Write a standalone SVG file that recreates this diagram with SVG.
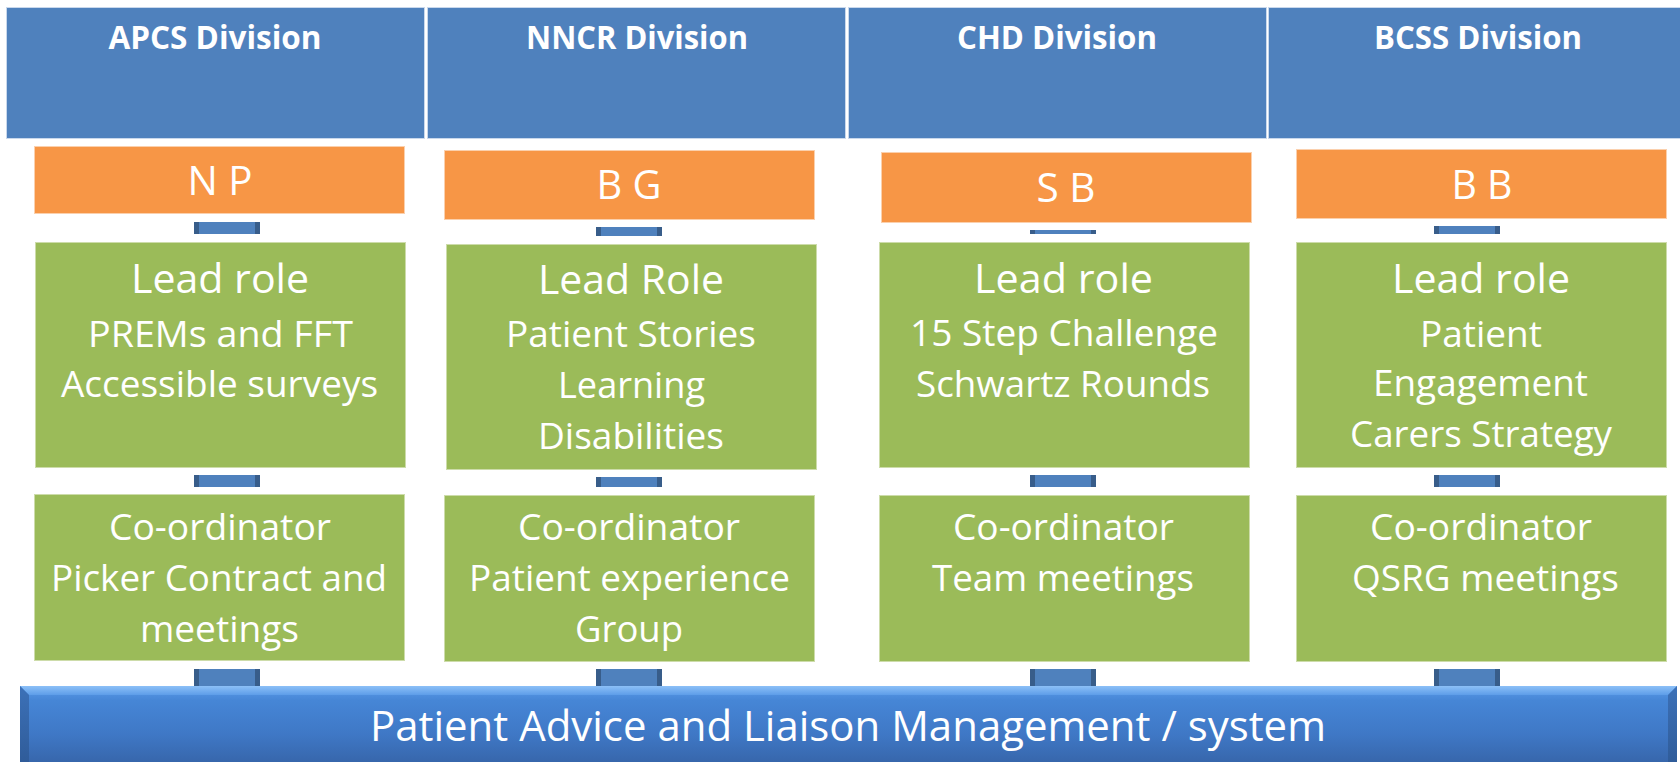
<svg xmlns="http://www.w3.org/2000/svg" width="1680" height="762" viewBox="0 0 1680 762">
  <style>
    text { font-family: "Open Sans", "Noto Sans", "Liberation Sans", sans-serif; fill: #ffffff; text-anchor: middle; }
    .hdr { fill: #4F81BD; stroke: #c9d8ec; stroke-width: 1; }
    .hdr-t { font-weight: bold; font-size: 32px; }
    .lead { fill: #F79646; stroke: #fbd0ad; stroke-width: 1; }
    .lead-t { font-size: 40px; }
    .box { fill: #9BBB59; stroke: #cddcaa; stroke-width: 1; }
    .t1 { font-size: 41px; }
    .t2 { font-size: 37px; }
    .bar-t { font-size: 42px; }
    .link { fill: #4F81BD; }
    .link-end { fill: #385D8A; }
  </style>
  <defs>
    <linearGradient id="barFill" x1="0" y1="0" x2="0" y2="1">
      <stop offset="0" stop-color="#5c9ce9"/>
      <stop offset="0.18" stop-color="#4686d6"/>
      <stop offset="0.6" stop-color="#3f78c6"/>
      <stop offset="1" stop-color="#3664a8"/>
    </linearGradient>
    <linearGradient id="barTop" x1="0" y1="0" x2="0" y2="1">
      <stop offset="0" stop-color="#8cc0f7"/>
      <stop offset="1" stop-color="#5d9de9"/>
    </linearGradient>
    <linearGradient id="barSide" x1="0" y1="0" x2="0" y2="1">
      <stop offset="0" stop-color="#3c71b8"/>
      <stop offset="1" stop-color="#2f5b98"/>
    </linearGradient>
    <!-- short link block: blue body with darker ends -->
    <g id="linkShape">
      <rect class="link" x="0" y="0" width="66" height="1"/>
    </g>
  </defs>

  <rect width="1680" height="762" fill="#ffffff"/>

  <!-- division headers -->
  <g id="header-apcs">
    <rect class="hdr" x="6.5" y="7.5" width="418" height="131"/>
    <text class="hdr-t" x="215" y="49" textLength="213" lengthAdjust="spacingAndGlyphs">APCS Division</text>
  </g>
  <g id="header-nncr">
    <rect class="hdr" x="427.5" y="7.5" width="418" height="131"/>
    <text class="hdr-t" x="637" y="49" textLength="222" lengthAdjust="spacingAndGlyphs">NNCR Division</text>
  </g>
  <g id="header-chd">
    <rect class="hdr" x="848.5" y="7.5" width="418" height="131"/>
    <text class="hdr-t" x="1057" y="49" textLength="200" lengthAdjust="spacingAndGlyphs">CHD Division</text>
  </g>
  <g id="header-bcss">
    <rect class="hdr" x="1268.5" y="7.5" width="420" height="131"/>
    <text class="hdr-t" x="1478" y="49" textLength="208" lengthAdjust="spacingAndGlyphs">BCSS Division</text>
  </g>

  <!-- connectors between the stacked boxes -->
  <g id="connectors">
    <!-- column 1 -->
    <rect class="link" x="194" y="222" width="66" height="12"/>
    <rect class="link-end" x="194" y="222" width="5" height="12"/>
    <rect class="link-end" x="255" y="222" width="5" height="12"/>
    <rect class="link" x="194" y="475" width="66" height="12"/>
    <rect class="link-end" x="194" y="475" width="5" height="12"/>
    <rect class="link-end" x="255" y="475" width="5" height="12"/>
    <rect class="link" x="194" y="669" width="66" height="19"/>
    <rect class="link-end" x="194" y="669" width="5" height="19"/>
    <rect class="link-end" x="255" y="669" width="5" height="19"/>
    <!-- column 2 -->
    <rect class="link" x="596" y="227" width="66" height="9"/>
    <rect class="link-end" x="596" y="227" width="5" height="9"/>
    <rect class="link-end" x="657" y="227" width="5" height="9"/>
    <rect class="link" x="596" y="477" width="66" height="10"/>
    <rect class="link-end" x="596" y="477" width="5" height="10"/>
    <rect class="link-end" x="657" y="477" width="5" height="10"/>
    <rect class="link" x="596" y="669" width="66" height="19"/>
    <rect class="link-end" x="596" y="669" width="5" height="19"/>
    <rect class="link-end" x="657" y="669" width="5" height="19"/>
    <!-- column 3 -->
    <rect class="link" x="1030" y="230" width="66" height="4"/>
    <rect class="link-end" x="1030" y="230" width="5" height="4"/>
    <rect class="link-end" x="1091" y="230" width="5" height="4"/>
    <rect class="link" x="1030" y="475" width="66" height="12"/>
    <rect class="link-end" x="1030" y="475" width="5" height="12"/>
    <rect class="link-end" x="1091" y="475" width="5" height="12"/>
    <rect class="link" x="1030" y="669" width="66" height="19"/>
    <rect class="link-end" x="1030" y="669" width="5" height="19"/>
    <rect class="link-end" x="1091" y="669" width="5" height="19"/>
    <!-- column 4 -->
    <rect class="link" x="1434" y="226" width="66" height="8"/>
    <rect class="link-end" x="1434" y="226" width="5" height="8"/>
    <rect class="link-end" x="1495" y="226" width="5" height="8"/>
    <rect class="link" x="1434" y="475" width="66" height="12"/>
    <rect class="link-end" x="1434" y="475" width="5" height="12"/>
    <rect class="link-end" x="1495" y="475" width="5" height="12"/>
    <rect class="link" x="1434" y="669" width="66" height="19"/>
    <rect class="link-end" x="1434" y="669" width="5" height="19"/>
    <rect class="link-end" x="1495" y="669" width="5" height="19"/>
  </g>

  <!-- named leads -->
  <g id="lead-np">
    <rect class="lead" x="34.5" y="146.5" width="370" height="67"/>
    <text class="lead-t" x="220" y="195" textLength="65" lengthAdjust="spacingAndGlyphs">N P</text>
  </g>
  <g id="lead-bg">
    <rect class="lead" x="444.5" y="150.5" width="370" height="69"/>
    <text class="lead-t" x="629" y="199" textLength="65" lengthAdjust="spacingAndGlyphs">B G</text>
  </g>
  <g id="lead-sb">
    <rect class="lead" x="881.5" y="152.5" width="370" height="70"/>
    <text class="lead-t" x="1066" y="202" textLength="59" lengthAdjust="spacingAndGlyphs">S B</text>
  </g>
  <g id="lead-bb">
    <rect class="lead" x="1296.5" y="149.5" width="370" height="69"/>
    <text class="lead-t" x="1482" y="199" textLength="61" lengthAdjust="spacingAndGlyphs">B B</text>
  </g>

  <!-- lead role boxes -->
  <g id="role-apcs">
    <rect class="box" x="35.5" y="242.5" width="370" height="225"/>
    <text class="t1" x="220" y="293" textLength="178" lengthAdjust="spacingAndGlyphs">Lead role</text>
    <text class="t2" x="220.5" y="347" textLength="265" lengthAdjust="spacingAndGlyphs">PREMs and FFT</text>
    <text class="t2" x="219.5" y="397" textLength="317" lengthAdjust="spacingAndGlyphs">Accessible surveys</text>
  </g>
  <g id="role-nncr">
    <rect class="box" x="446.5" y="244.5" width="370" height="225"/>
    <text class="t1" x="631" y="294" textLength="186" lengthAdjust="spacingAndGlyphs">Lead Role</text>
    <text class="t2" x="631" y="347" textLength="250" lengthAdjust="spacingAndGlyphs">Patient Stories</text>
    <text class="t2" x="631.5" y="398" textLength="147" lengthAdjust="spacingAndGlyphs">Learning</text>
    <text class="t2" x="631" y="449" textLength="186" lengthAdjust="spacingAndGlyphs">Disabilities</text>
  </g>
  <g id="role-chd">
    <rect class="box" x="879.5" y="242.5" width="370" height="225"/>
    <text class="t1" x="1063.5" y="293" textLength="179" lengthAdjust="spacingAndGlyphs">Lead role</text>
    <text class="t2" x="1064" y="346" textLength="308" lengthAdjust="spacingAndGlyphs">15 Step Challenge</text>
    <text class="t2" x="1063" y="397" textLength="294" lengthAdjust="spacingAndGlyphs">Schwartz Rounds</text>
  </g>
  <g id="role-bcss">
    <rect class="box" x="1296.5" y="242.5" width="370" height="225"/>
    <text class="t1" x="1481" y="293" textLength="178" lengthAdjust="spacingAndGlyphs">Lead role</text>
    <text class="t2" x="1481" y="347" textLength="122" lengthAdjust="spacingAndGlyphs">Patient</text>
    <text class="t2" x="1480.5" y="396" textLength="215" lengthAdjust="spacingAndGlyphs">Engagement</text>
    <text class="t2" x="1481" y="447" textLength="262" lengthAdjust="spacingAndGlyphs">Carers Strategy</text>
  </g>

  <!-- co-ordinator boxes -->
  <g id="coord-apcs">
    <rect class="box" x="34.5" y="494.5" width="370" height="166"/>
    <text class="t2" x="220" y="540" textLength="222" lengthAdjust="spacingAndGlyphs">Co-ordinator</text>
    <text class="t2" x="219" y="591" textLength="336" lengthAdjust="spacingAndGlyphs">Picker Contract and</text>
    <text class="t2" x="219.5" y="642" textLength="159" lengthAdjust="spacingAndGlyphs">meetings</text>
  </g>
  <g id="coord-nncr">
    <rect class="box" x="444.5" y="495.5" width="370" height="166"/>
    <text class="t2" x="629" y="540" textLength="222" lengthAdjust="spacingAndGlyphs">Co-ordinator</text>
    <text class="t2" x="629.5" y="591" textLength="321" lengthAdjust="spacingAndGlyphs">Patient experience</text>
    <text class="t2" x="629" y="642" textLength="108" lengthAdjust="spacingAndGlyphs">Group</text>
  </g>
  <g id="coord-chd">
    <rect class="box" x="879.5" y="495.5" width="370" height="166"/>
    <text class="t2" x="1063.5" y="540" textLength="221" lengthAdjust="spacingAndGlyphs">Co-ordinator</text>
    <text class="t2" x="1063" y="591" textLength="262" lengthAdjust="spacingAndGlyphs">Team meetings</text>
  </g>
  <g id="coord-bcss">
    <rect class="box" x="1296.5" y="495.5" width="370" height="166"/>
    <text class="t2" x="1481" y="540" textLength="222" lengthAdjust="spacingAndGlyphs">Co-ordinator</text>
    <text class="t2" x="1485.5" y="591" textLength="267" lengthAdjust="spacingAndGlyphs">QSRG meetings</text>
  </g>

  <!-- bevelled base bar -->
  <g id="pals-bar">
    <rect x="20" y="686" width="1657" height="80" fill="url(#barFill)"/>
    <polygon points="20,686 1677,686 1668,695 29,695" fill="url(#barTop)"/>
    <polygon points="20,686 29,695 29,766 20,766" fill="url(#barSide)"/>
    <polygon points="1677,686 1668,695 1668,766 1677,766" fill="url(#barSide)"/>
    <text class="bar-t" x="848" y="741" textLength="956" lengthAdjust="spacingAndGlyphs">Patient Advice and Liaison Management / system</text>
  </g>
</svg>
